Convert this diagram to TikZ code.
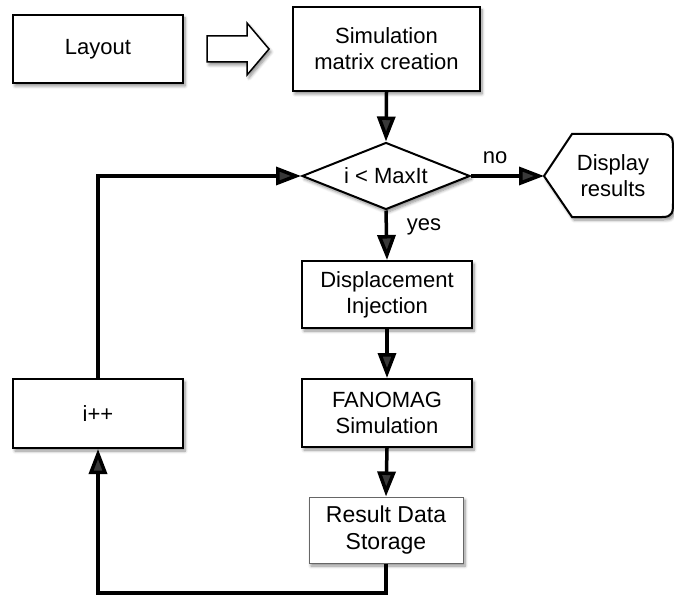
\documentclass[tikz,border=0pt]{standalone}
\usepackage{fontspec}
\setmainfont{Liberation Sans}
\usetikzlibrary{arrows.meta,shapes.geometric,shadows.blur}
\begin{document}
\begin{tikzpicture}[x=1pt,y=-1pt,
  every node/.style={font=\fontsize{22}{26}\selectfont},
  shad/.style={blur shadow={shadow xshift=2pt,shadow yshift=-3pt,shadow blur steps=6,shadow blur radius=3pt,shadow opacity=45}},
  box/.style={draw=black,line width=2pt,fill=white,align=center,inner sep=0pt,shad},
  conn/.style={line width=3.5pt,-{Triangle[length=25pt,width=18pt]}},
  plain/.style={line width=3.5pt},
  lbl/.style={inner sep=0pt}
]
\useasboundingbox (0,0) rectangle (674,596);

\node[box,minimum width=170pt,minimum height=68pt] (layout) at (98,49) {Layout};
\node[box,minimum width=187pt,minimum height=84pt] (sim) at (386.5,49) {Simulation\\matrix creation};

\draw[line width=1.5pt,fill=white,line join=miter,shad] (207,36) -- (247,36) -- (247,23) -- (269,49) -- (247,75) -- (247,62) -- (207,62) -- cycle;

\node[box,shape=diamond,aspect=2.5,minimum width=168pt,minimum height=67pt] (dia) at (386,176) {i < MaxIt};

\draw[line width=2pt,fill=white,shad,line join=miter] (544,176) -- (572,134) -- (662,134) .. controls (673,134) and (673,140) .. (673,150) -- (673,202) .. controls (673,212) and (673,217) .. (662,217) -- (572,217) -- cycle;
\coordinate (dispW) at (544,176);
\node[lbl,align=center] (disp) at (613,176) {Display\\results};

\node[box,minimum width=170pt,minimum height=67pt] (displ) at (387,294.5) {Displacement\\Injection};
\node[box,minimum width=170pt,minimum height=68pt] (fano) at (387,413) {FANOMAG\\Simulation};
\node[box,draw=black!60,line width=1pt,minimum width=154pt,minimum height=66pt,font=\fontsize{23}{27}\selectfont] (store) at (386,530) {Result Data\\Storage};

\node[box,minimum width=170pt,minimum height=69pt] (inc) at (98,413.5) {i++};

\coordinate (bl) at (98,593);

\draw[conn] (sim.south) -- (dia.north);
\draw[conn] (dia.south) -- (displ.north);
\draw[conn] (displ.south) -- (fano.north);
\draw[conn] (fano.south) -- (store.north);
\draw[conn] (dia.east) -- (dispW);
\draw[conn] (store.south) |- (bl) -- (inc.south);
\draw[conn] (inc.north) |- (dia.west);

\node[lbl] (no) at (495,158) {no};
\node[lbl] (yes) at (424,227) {yes};
\end{tikzpicture}
\end{document}
